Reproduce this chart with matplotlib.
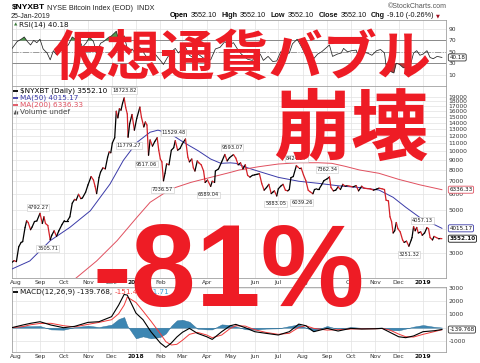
import numpy as np
import pandas as pd
import matplotlib
matplotlib.use("Agg")
import matplotlib.pyplot as plt
import matplotlib.dates as mdates
from matplotlib.collections import LineCollection
from matplotlib.ticker import FixedLocator, FixedFormatter, NullLocator

# ---- values ----
price_dates = [
    "2017-07-27", "2017-07-30", "2017-08-02", "2017-08-05", "2017-08-08", "2017-08-10", "2017-08-13",
    "2017-08-15", "2017-08-17", "2017-08-20", "2017-08-22", "2017-08-25", "2017-08-28", "2017-09-01",
    "2017-09-04", "2017-09-06", "2017-09-08", "2017-09-11", "2017-09-14", "2017-09-16", "2017-09-19",
    "2017-09-22", "2017-09-25", "2017-09-29", "2017-10-02", "2017-10-06", "2017-10-09", "2017-10-12",
    "2017-10-15", "2017-10-17", "2017-10-20", "2017-10-23", "2017-10-25", "2017-10-29", "2017-11-01",
    "2017-11-05", "2017-11-08", "2017-11-10", "2017-11-12", "2017-11-15", "2017-11-17", "2017-11-20",
    "2017-11-23", "2017-11-26", "2017-11-28", "2017-11-30", "2017-12-02", "2017-12-05", "2017-12-07",
    "2017-12-09", "2017-12-11", "2017-12-13", "2017-12-15", "2017-12-17", "2017-12-19", "2017-12-21",
    "2017-12-22", "2017-12-24", "2017-12-27", "2017-12-30", "2018-01-02", "2018-01-06", "2018-01-08",
    "2018-01-11", "2018-01-13", "2018-01-15", "2018-01-17", "2018-01-19", "2018-01-22", "2018-01-25",
    "2018-01-28", "2018-01-30", "2018-02-01", "2018-02-03", "2018-02-05", "2018-02-07", "2018-02-09",
    "2018-02-12", "2018-02-15", "2018-02-18", "2018-02-20", "2018-02-23", "2018-02-26", "2018-03-01",
    "2018-03-05", "2018-03-08", "2018-03-10", "2018-03-13", "2018-03-15", "2018-03-17", "2018-03-20",
    "2018-03-22", "2018-03-25", "2018-03-28", "2018-03-30", "2018-04-02", "2018-04-06", "2018-04-08",
    "2018-04-11", "2018-04-12", "2018-04-16", "2018-04-20", "2018-04-24", "2018-04-27", "2018-04-30",
    "2018-05-05", "2018-05-08", "2018-05-11", "2018-05-14", "2018-05-17", "2018-05-20", "2018-05-23",
    "2018-05-26", "2018-05-29", "2018-06-01", "2018-06-04", "2018-06-07", "2018-06-10", "2018-06-13",
    "2018-06-16", "2018-06-19", "2018-06-22", "2018-06-24", "2018-06-26", "2018-06-29", "2018-07-01",
    "2018-07-04", "2018-07-07", "2018-07-10", "2018-07-13", "2018-07-15", "2018-07-17", "2018-07-20",
    "2018-07-24", "2018-07-27", "2018-07-30", "2018-08-02", "2018-08-05", "2018-08-08", "2018-08-10",
    "2018-08-14", "2018-08-16", "2018-08-19", "2018-08-22", "2018-08-25", "2018-08-28", "2018-09-01",
    "2018-09-04", "2018-09-06", "2018-09-09", "2018-09-12", "2018-09-15", "2018-09-18", "2018-09-21",
    "2018-09-24", "2018-09-27", "2018-09-30", "2018-10-04", "2018-10-08", "2018-10-11", "2018-10-15",
    "2018-10-18", "2018-10-22", "2018-10-26", "2018-10-30", "2018-11-03", "2018-11-06", "2018-11-10",
    "2018-11-13", "2018-11-15", "2018-11-18", "2018-11-20", "2018-11-22", "2018-11-24", "2018-11-26",
    "2018-11-28", "2018-11-30", "2018-12-03", "2018-12-06", "2018-12-08", "2018-12-11", "2018-12-14",
    "2018-12-17", "2018-12-18", "2018-12-20", "2018-12-22", "2018-12-24", "2018-12-26", "2018-12-29",
    "2018-12-31", "2019-01-03", "2019-01-06", "2019-01-08", "2019-01-10", "2019-01-13", "2019-01-15",
    "2019-01-18", "2019-01-21", "2019-01-23", "2019-01-25",
]
price_close = [
    2680, 2740, 2710, 3230, 3400, 3430, 4050,
    4390, 4300, 3950, 4080, 4350, 4380, 4792.27,
    4250, 4600, 4250, 4150, 3505.71, 3700, 3900,
    3650, 3900, 4200, 4400, 4400, 4600, 5400,
    5650, 5600, 6000, 5700, 5750, 6150, 6700,
    7400, 7100, 6600, 6050, 7300, 7800, 8200,
    8100, 9300, 9900, 9800, 11000, 11700, 16000,
    14800, 16500, 16200, 17600, 18723.82, 16700, 15500,
    11779.27, 13800, 15400, 12800, 14700, 16800, 14900,
    13300, 14100, 13600, 9517.06, 11400, 10600, 11200,
    11700, 10100, 9100, 8800, 7036.57, 7700, 8600,
    8500, 10100, 10400, 11300, 10100, 10300, 10900,
    11529.48, 9300, 8800, 9100, 8200, 7900, 8900,
    8700, 8500, 7900, 6900, 7100, 6589.04, 7000,
    6900, 7900, 8100, 8800, 9600, 8900, 9250,
    9593.07, 9200, 8500, 8700, 8100, 8500, 7500,
    7350, 7500, 7550, 7600, 7650, 6800, 6300,
    6500, 6750, 6050, 6150, 6250, 5883.05, 6400,
    6600, 6750, 6300, 6250, 6350, 7300, 7400,
    8424.27, 8200, 8200, 7550, 7050, 6300, 6200,
    6039.26, 6350, 6400, 6400, 6700, 7050, 7200,
    7362.34, 6500, 6250, 6300, 6550, 6350, 6750,
    6600, 6650, 6600, 6550, 6650, 6250, 6600,
    6450, 6420, 6400, 6300, 6380, 6450, 6400,
    6350, 5600, 5550, 4600, 4350, 3800, 3900,
    4300, 4000, 3850, 3500, 3400, 3450, 3251.32,
    3500, 3600, 4100, 3900, 4057.13, 3800, 3850,
    3700, 3800, 4050, 4000, 3600, 3500, 3650,
    3600, 3550, 3560, 3552.10,
]

ma50_dates = [
    "2017-07-27", "2017-08-19", "2017-09-14", "2017-10-09", "2017-11-04", "2017-11-29", "2017-12-16",
    "2018-01-02", "2018-01-19", "2018-01-29", "2018-02-14", "2018-03-03", "2018-03-21", "2018-04-06",
    "2018-04-19", "2018-05-01", "2018-05-08", "2018-05-21", "2018-06-06", "2018-07-01", "2018-07-27",
    "2018-08-21", "2018-09-16", "2018-10-12", "2018-11-06", "2018-11-24", "2018-12-10", "2018-12-28",
    "2019-01-25",
]
ma50_vals = [
    2480, 2730, 3470, 4060, 4940, 6770, 8960,
    11060, 12490, 12800, 12250, 11060, 10040, 9100,
    8650, 8700, 8650, 8250, 7870, 7330, 7000,
    6830, 6630, 6500, 6310, 5790, 5150, 4560,
    4015.17,
]

ma200_dates = [
    "2017-10-15", "2017-11-12", "2017-12-08", "2018-01-02", "2018-01-19", "2018-02-14", "2018-03-12",
    "2018-04-06", "2018-05-01", "2018-05-12", "2018-06-06", "2018-07-01", "2018-07-27", "2018-08-21",
    "2018-09-07", "2018-09-24", "2018-10-12", "2018-11-06", "2018-12-01", "2018-12-28", "2019-01-25",
]
ma200_vals = [
    2200, 2730, 3470, 4560, 5460, 6380, 6910,
    7330, 7770, 7990, 8310, 8580, 8710, 8710,
    8650, 8350, 8000, 7690, 7160, 6710, 6336.33,
]

rsi_dates = [
    "2017-07-27", "2017-08-03", "2017-08-08", "2017-08-12", "2017-08-16", "2017-08-20", "2017-08-24",
    "2017-08-28", "2017-09-01", "2017-09-05", "2017-09-10", "2017-09-14", "2017-09-18", "2017-09-22",
    "2017-09-27", "2017-10-02", "2017-10-07", "2017-10-12", "2017-10-16", "2017-10-20", "2017-10-25",
    "2017-10-30", "2017-11-03", "2017-11-08", "2017-11-12", "2017-11-17", "2017-11-21", "2017-11-26",
    "2017-12-01", "2017-12-07", "2017-12-10", "2017-12-17", "2017-12-22", "2017-12-27", "2017-12-31",
    "2018-01-06", "2018-01-10", "2018-01-16", "2018-01-20", "2018-01-26", "2018-02-01", "2018-02-05",
    "2018-02-10", "2018-02-15", "2018-02-20", "2018-02-24", "2018-03-01", "2018-03-05", "2018-03-10",
    "2018-03-17", "2018-03-21", "2018-03-27", "2018-04-01", "2018-04-06", "2018-04-12", "2018-04-18",
    "2018-04-24", "2018-04-29", "2018-05-05", "2018-05-10", "2018-05-15", "2018-05-23", "2018-05-29",
    "2018-06-03", "2018-06-08", "2018-06-12", "2018-06-18", "2018-06-24", "2018-06-29", "2018-07-04",
    "2018-07-10", "2018-07-15", "2018-07-19", "2018-07-25", "2018-07-30", "2018-08-05", "2018-08-10",
    "2018-08-15", "2018-08-20", "2018-08-25", "2018-08-30", "2018-09-04", "2018-09-08", "2018-09-14",
    "2018-09-19", "2018-09-22", "2018-09-27", "2018-10-02", "2018-10-08", "2018-10-11", "2018-10-16",
    "2018-10-22", "2018-10-28", "2018-11-03", "2018-11-08", "2018-11-13", "2018-11-15", "2018-11-20",
    "2018-11-25", "2018-11-28", "2018-12-02", "2018-12-07", "2018-12-12", "2018-12-15", "2018-12-20",
    "2018-12-24", "2018-12-28", "2019-01-01", "2019-01-06", "2019-01-10", "2019-01-14", "2019-01-19",
    "2019-01-25",
]
rsi_vals = [
    55, 68, 72, 76, 68, 62, 70,
    66, 72, 55, 48, 36, 52, 45,
    55, 58, 62, 76, 72, 75, 58,
    66, 76, 68, 48, 65, 68, 74,
    78, 86, 72, 78, 50, 55, 48,
    58, 50, 38, 45, 45, 35, 28,
    40, 50, 56, 48, 55, 58, 44,
    38, 46, 40, 35, 36, 55, 58,
    68, 62, 66, 55, 46, 37, 35,
    44, 46, 35, 42, 33, 34, 50,
    46, 48, 64, 72, 60, 44, 36,
    38, 46, 50, 56, 62, 42, 46,
    48, 56, 50, 52, 53, 42, 49,
    48, 44, 52, 54, 48, 26, 16,
    13, 30, 28, 22, 24, 22, 48,
    52, 44, 46, 52, 40, 38, 42,
    40.18,
]

macd_dates = [
    "2017-07-27", "2017-08-10", "2017-08-20", "2017-09-01", "2017-09-15", "2017-10-01", "2017-10-15",
    "2017-11-01", "2017-11-15", "2017-12-01", "2017-12-10", "2017-12-17", "2017-12-21", "2018-01-01",
    "2018-01-10", "2018-01-20", "2018-02-01", "2018-02-08", "2018-02-15", "2018-02-22", "2018-03-01",
    "2018-03-10", "2018-03-20", "2018-04-01", "2018-04-08", "2018-04-20", "2018-05-01", "2018-05-08",
    "2018-05-20", "2018-06-01", "2018-06-15", "2018-07-01", "2018-07-15", "2018-07-27", "2018-08-05",
    "2018-08-15", "2018-09-01", "2018-09-15", "2018-10-01", "2018-10-15", "2018-11-01", "2018-11-10",
    "2018-11-20", "2018-12-01", "2018-12-10", "2018-12-20", "2019-01-01", "2019-01-15", "2019-01-25",
]
macd_vals = [
    0, 200, 330, 450, 200, 0, 100,
    400, 450, 830, 1700, 2500, 2450, 1100,
    600, -300, -1150, -1480, -1150, -700, -350,
    -50, -420, -680, -880, -300, 150, 250,
    0, -300, -420, -550, -300, 270, 150,
    -300, -50, -250, -50, -100, -80, -50,
    -350, -680, -750, -620, -300, -230, -139.768,
]
signal_vals = [
    0, 80, 220, 320, 330, 150, 60,
    250, 400, 600, 1050, 1700, 2300, 1900,
    1250, 500, -450, -1050, -1300, -1250, -950,
    -500, -350, -550, -750, -550, -50, 150,
    120, -150, -350, -500, -420, 20, 150,
    -50, -180, -150, -100, -90, -80, -60,
    -180, -480, -680, -700, -500, -300, -151.48,
]

# swing-point labels on the price panel
swing_dates = ["2017-09-01", "2017-09-14", "2017-12-17", "2017-12-22", "2018-01-17", "2018-02-05",
               "2018-03-05", "2018-04-06", "2018-05-05", "2018-06-29", "2018-07-24", "2018-08-14",
               "2018-09-04", "2018-12-14", "2018-12-24"]

month_starts = pd.date_range("2017-08-01", "2019-01-01", freq="MS")
month_labels = [str(d.year) if d.month == 1 else d.strftime("%b") for d in month_starts]

# ---- figure ----
W, H = 480, 363
RED = "#ee1c25"
BLUE_MA = "#3a3aa8"
RED_MA = "#e0505f"
GRID = "#e2e2e2"
SMALL = "DejaVu Sans"

fig = plt.figure(figsize=(W / 100, H / 100), dpi=100)


def box(x0, y0, x1, y1):
    return [x0 / W, 1 - y1 / H, (x1 - x0) / W, (y1 - y0) / H]


ax_rsi = fig.add_axes(box(12, 20, 446, 86))
ax_px = fig.add_axes(box(12, 86, 446, 278))
ax_md = fig.add_axes(box(12, 287, 446, 352))

xlim = mdates.date2num([pd.Timestamp("2017-07-27 10:00"), pd.Timestamp("2019-01-30 05:00")])
mnum = mdates.date2num(month_starts)


def d2n(lst):
    return mdates.date2num(pd.to_datetime(lst))


for ax in (ax_rsi, ax_px, ax_md):
    ax.set_xlim(*xlim)
    ax.xaxis.set_major_locator(FixedLocator(mnum))
    ax.xaxis.set_major_formatter(FixedFormatter(month_labels))
    ax.grid(True, color=GRID, lw=0.5)
    ax.set_axisbelow(True)
    ax.yaxis.tick_right()
    ax.tick_params(length=0, labelsize=4.3, labelcolor="#333", pad=2)
    for s in ax.spines.values():
        s.set_color("#a0a0a0")
        s.set_linewidth(0.6)
    for lab in ax.get_xticklabels():
        lab.set_family(SMALL)
        if lab.get_text().startswith("20"):
            lab.set_fontweight("bold")
            lab.set_color("#111")
ax_rsi.tick_params(axis="x", labelbottom=False)
ax_px.tick_params(axis="x", pad=1.5)
ax_md.tick_params(axis="x", pad=1.5)

# price panel
xp = d2n(price_dates)
yp = np.array(price_close, dtype=float)
pts = np.column_stack([xp, yp])
segs = np.stack([pts[:-1], pts[1:]], axis=1)
cols = ["black" if b >= a else "#d42027" for a, b in zip(yp[:-1], yp[1:])]
ax_px.set_yscale("log")
ax_px.add_collection(LineCollection(segs, colors=cols, linewidths=0.9, capstyle="round", zorder=4))
ax_px.plot(d2n(ma50_dates), ma50_vals, color=BLUE_MA, lw=0.7, zorder=3)
ax_px.plot(d2n(ma200_dates), ma200_vals, color=RED_MA, lw=0.7, zorder=3)
ax_px.set_ylim(2233, 21560)
yt = list(range(3000, 20000, 1000))
ax_px.yaxis.set_major_locator(FixedLocator(yt))
ax_px.yaxis.set_major_formatter(FixedFormatter([str(v) for v in yt]))
ax_px.yaxis.set_minor_locator(NullLocator())

# swing labels: offsets in pixels (dx, dy up)
offsets = [(-2, 6), (-2.5, -8.5), (0, 7.5), (1, -8.5), (-2, -8.8), (-1, -9),
           (-12, 6.5), (-2, -8.6), (-1.5, 7), (-1, -8), (0, 7), (-11, -8.6),
           (-2.5, 7.5), (0, -8.5), (6, 7)]
price_lookup = dict(zip(price_dates, price_close))
for d, (dx, dy) in zip(swing_dates, offsets):
    v = price_lookup[d]
    ax_px.annotate(f"{v:.2f}", xy=(mdates.date2num(pd.Timestamp(d)), v),
                   xytext=(dx * 0.72, dy * 0.72), textcoords="offset points",
                   ha="center", va="center", fontsize=3.7, family=SMALL, color="#222",
                   bbox=dict(boxstyle="square,pad=0.15", fc="white", ec="#c8c8c8", lw=0.4),
                   zorder=6)


def side_box(ax, y, txt, ec, bold=False):
    ax.annotate(txt, xy=(1, y), xycoords=ax.get_yaxis_transform(), xytext=(2.4, 0),
                textcoords="offset points", ha="left", va="center", fontsize=4.1,
                family=SMALL, fontweight="bold" if bold else "normal", color="#111",
                bbox=dict(boxstyle="round,pad=0.18,rounding_size=0.25", fc="white", ec=ec, lw=0.6),
                annotation_clip=False, zorder=7)


side_box(ax_px, 6336.33, "6336.33", RED_MA)
side_box(ax_px, 4015.17, "4015.17", BLUE_MA)
side_box(ax_px, 3552.10, "3552.10", "#111", bold=True)

# RSI panel
xr = d2n(rsi_dates)
rv = np.array(rsi_vals, dtype=float)
ax_rsi.set_ylim(-9.8, 105.7)
ax_rsi.yaxis.set_major_locator(FixedLocator([10, 30, 50, 70, 90]))
ax_rsi.yaxis.set_major_formatter(FixedFormatter(["10", "30", "50", "70", "90"]))
ax_rsi.axhline(70, color="#8a8a8a", lw=0.7, zorder=2)
ax_rsi.axhline(30, color="#8a8a8a", lw=0.7, zorder=2)
ax_rsi.axhline(50, color="#9a9a9a", lw=0.7, ls="-.", zorder=2)
ax_rsi.fill_between(xr, rv, 70, where=rv >= 70, interpolate=True, color="#4c9a4c", lw=0, zorder=3)
ax_rsi.fill_between(xr, rv, 30, where=rv <= 30, interpolate=True, color="#b83a3a", lw=0, zorder=3)
ax_rsi.plot(xr, rv, color="#222", lw=0.55, zorder=4)
side_box(ax_rsi, 40.18, "40.18", "#333")

# MACD panel
xm = d2n(macd_dates)
mv = np.array(macd_vals, dtype=float)
sv = np.array(signal_vals, dtype=float)
ax_md.set_ylim(-1827, 3060)
mt = [-1000, 0, 1000, 2000, 3000]
ax_md.yaxis.set_major_locator(FixedLocator(mt))
ax_md.yaxis.set_major_formatter(FixedFormatter([str(v) for v in mt]))
ax_md.fill_between(xm, mv - sv, 0, color="#3d86b2", lw=0.3, edgecolor="#2b6d95", zorder=2)
ax_md.plot(xm, sv, color="#f03a3a", lw=0.7, zorder=3)
ax_md.plot(xm, mv, color="black", lw=0.8, zorder=4)
side_box(ax_md, -139.768, "-139.768", "#333")
for ax in (ax_rsi, ax_px, ax_md):
    for lab in ax.get_yticklabels():
        lab.set_family(SMALL)

# ---- overlay in pixel coordinates ----
ov = fig.add_axes([0, 0, 1, 1], zorder=10)
ov.set_autoscale_on(False)
ov.set_xlim(0, W)
ov.set_ylim(H, 0)
ov.axis("off")

HF = "Liberation Sans"
ov.text(12, 9.5, "$NYXBT", fontsize=6, fontweight="bold", family=HF, va="baseline")
ov.text(47, 9.5, "NYSE Bitcoin Index (EOD)  INDX", fontsize=5.2, family=HF, va="baseline", color="#222")
ov.text(447, 7, "\u00a9StockCharts.com", fontsize=5, family=HF, ha="right", va="center", color="#555")
ov.text(11, 18, "25-Jan-2019", fontsize=5, family=HF, va="baseline", color="#222")

parts = [("Open", True), ("3552.10", False), ("High", True), ("3552.10", False),
         ("Low", True), ("3552.10", False), ("Close", True), ("3552.10", False),
         ("Chg", True), ("-9.10 (-0.26%)", False)]
prev = ov.text(170, 19.3, parts[0][0], fontsize=5.2, family=HF, fontweight="bold", va="bottom")
for txt, bold in parts[1:]:
    gap = 1.8 if not bold else 3.2
    prev = ov.annotate(txt, xy=(1, 0), xycoords=prev, xytext=(gap, 0), textcoords="offset points",
                       fontsize=5.2, family=HF, fontweight="bold" if bold else "normal",
                       va="bottom", ha="left", color="#111")
ov.annotate("\u25bc", xy=(1, 0), xycoords=prev, xytext=(1.5, 0.4), textcoords="offset points",
            fontsize=3.6, family=SMALL, va="bottom", ha="left", color="#a01020")

# panel legends
LF = 5.2
ov.text(15.5, 24.5, "\u25b2", fontsize=3.2, family=SMALL, color="#3a7a3a", va="center", ha="center")
ov.text(19, 24.5, "RSI(14) 40.18", fontsize=LF, family=SMALL, va="center", color="#111")

rows = [("$NYXBT (Daily) 3552.10", "black"), ("MA(50) 4015.17", BLUE_MA),
        ("MA(200) 6336.33", RED_MA), ("Volume undef", "#444")]
for i, (txt, c) in enumerate(rows):
    y = 90.7 + 7.2 * i
    if i < 3:
        ov.plot([13, 18], [y, y], color=c, lw=1.3, solid_capstyle="butt")
    else:
        for k, h in enumerate([2.5, 4, 3]):
            ov.plot([13.5 + 1.6 * k] * 2, [y + 2, y + 2 - h], color="#555", lw=0.9, solid_capstyle="butt")
    ov.text(19.5, y, txt, fontsize=LF, family=SMALL, va="center", color=c)

ov.plot([13, 18], [291.5, 291.5], color="black", lw=1.3, solid_capstyle="butt")
t1 = ov.text(20.5, 291.5, "MACD(12,26,9) -139.768,", fontsize=LF, family=SMALL, va="center", color="#111")
t2 = ov.annotate("-151.48,", xy=(1, 0), xycoords=t1, xytext=(1.5, 0), textcoords="offset points",
                 fontsize=LF, family=SMALL, va="bottom", ha="left", color="#f03a3a")
ov.annotate("11.71", xy=(1, 0), xycoords=t2, xytext=(2.5, 0), textcoords="offset points",
            fontsize=LF, family=SMALL, va="bottom", ha="left", color="#3aa0d8")

# big red overlay text
CJK = ["Noto Sans CJK JP", "DejaVu Sans"]
ov.text(241.5, 59, "仮想通貨バブル", fontsize=39, fontweight="bold", family=CJK,
        color=RED, ha="center", va="center", zorder=20)
ov.text(350.5, 131, "崩壊", fontsize=56, fontweight="bold", family=CJK,
        color=RED, ha="center", va="center", zorder=20)
ov.text(229, 306, "-81%", fontsize=84, fontweight="bold", family=HF,
        color=RED, ha="center", va="baseline", zorder=20)

fig.savefig("out.png", dpi=100)
